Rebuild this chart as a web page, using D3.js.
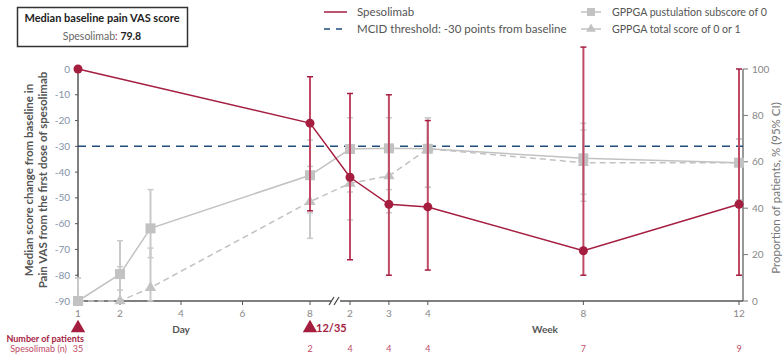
<!DOCTYPE html>
<html><head><meta charset="utf-8">
<script src="https://cdn.jsdelivr.net/npm/d3@7"></script>
<style>
body{margin:0;background:#fff;}
svg{display:block;font-family:Lato,"DejaVu Sans",sans-serif;}
</style></head>
<body><svg id="c" width="784" height="355"></svg>
<script>
// ---- data ----
const spesoUnits = ["day","day","week","week","week","week","week"];
const spesoTimes = [1,8,2,3,4,8,12];
const spesoMedian = [0,-21,-42,-52.5,-53.5,-70.5,-52.5];
const spesoLow  = [null,-55,-74,-80,-78,-80,-80];
const spesoHigh = [null,-3,-9.5,-10,-20,8.5,0];

const gppUnits = ["day","day","day","day","week","week","week","week","week"];
const gppTimes = [1,2,3,8,2,3,4,8,12];
const pustule     = [0,11.6,31.3,54.2,65.5,65.8,65.6,61.5,59.6];
const pustuleLow  = [0,4.7,18.7,38,47,48,49,43,43.5];
const pustuleHigh = [10,26,48,69.4,79,79,79,76.6,69.8];
const total     = [0,0,5.7,42.8,50.7,53.9,65.6,59.6,59.6];
const totalLow  = [0,0,0,27,35,38,49,46,43.5];
const totalHigh = [10,14.8,22.8,58,65,65,79,73.7,69.8];

const mcid = -30;
const leftTicks = [0,-10,-20,-30,-40,-50,-60,-70,-80,-90];
const rightTicks = [0,20,40,60,80,100];
const dayTicks = [1,2,4,6,8];
const weekTicks = [2,3,4,8,12];
const nUnits = ["day","day","week","week","week","week","week"];
const nTimes = [1,8,2,3,4,8,12];
const nPatients = ["35","2","4","4","4","7","9"];

// ---- styles ----
const RED="#a51d3f", RED_BAR="#c04a66", GREY="#c2c2c2", GREY_BAR="#c9c9c9", BLUE="#1f4e7a";

const svg = d3.select("#c");
const X0=78, X1=743, Y0=69, Y1=301;
const yL = d3.scaleLinear().domain([-90,0]).range([Y1,Y0]);
const yR = d3.scaleLinear().domain([0,100]).range([Y1,Y0]);
const xDay = d3.scaleLinear().domain(dayTicks).range([78,120,181,242.5,310]);
const xWeek = d3.scaleLinear().domain([2,12]).range([350,739]);
const xp = (u,t) => u==="day" ? xDay(t) : xWeek(t);

// ---- box ----
svg.append("rect").attr("x",17.5).attr("y",7.5).attr("width",170).attr("height",39)
  .attr("fill","#fff").attr("stroke","#333").attr("stroke-width",1.5);
svg.append("text").attr("x",102).attr("y",22).attr("text-anchor","middle")
  .attr("font-size",11).attr("font-weight","bold").attr("fill","#222").text("Median baseline pain VAS score");
const bt = svg.append("text").attr("x",102).attr("y",40).attr("text-anchor","middle").attr("font-size",10.5);
bt.append("tspan").attr("fill","#666").text("Spesolimab");
bt.append("tspan").attr("fill",RED).text(": ");
bt.append("tspan").attr("fill","#222").attr("font-weight","bold").text("79.8");

// ---- legend ----
const lg = svg.append("g").attr("font-size",11.5).attr("fill","#555");
lg.append("line").attr("x1",324).attr("x2",347).attr("y1",12).attr("y2",12).attr("stroke",RED).attr("stroke-width",1.5);
lg.append("text").attr("x",357).attr("y",16).attr("fill","#555").text("Spesolimab");
lg.append("line").attr("x1",324).attr("x2",347).attr("y1",29).attr("y2",29).attr("stroke",BLUE).attr("stroke-width",1.5).attr("stroke-dasharray","6,6");
lg.append("text").attr("x",357).attr("y",33).attr("fill","#555").text("MCID threshold: -30 points from baseline");
lg.append("line").attr("x1",581).attr("x2",601).attr("y1",12).attr("y2",12).attr("stroke",GREY).attr("stroke-width",1.5);
lg.append("rect").attr("x",587).attr("y",8).attr("width",8).attr("height",8).attr("fill",GREY);
lg.append("text").attr("x",612).attr("y",16).attr("font-size",10.6).attr("fill","#555").text("GPPGA pustulation subscore of 0");
lg.append("line").attr("x1",581).attr("x2",601).attr("y1",29).attr("y2",29).attr("stroke",GREY).attr("stroke-width",1.5);
lg.append("path").attr("d",d3.symbol(d3.symbolTriangle,40)()).attr("transform","translate(591,29)").attr("fill",GREY);
lg.append("text").attr("x",612).attr("y",33).attr("font-size",10.6).attr("fill","#555").text("GPPGA total score of 0 or 1");

// ---- axes ----
const ax = svg.append("g");
ax.append("line").attr("x1",X0).attr("x2",X0).attr("y1",Y0).attr("y2",Y1).attr("stroke","#555").attr("stroke-width",1.5);
leftTicks.forEach(v=>{
  ax.append("line").attr("x1",X0-3).attr("x2",X0).attr("y1",yL(v)).attr("y2",yL(v)).attr("stroke","#555");
  ax.append("text").attr("x",X0-8).attr("y",yL(v)+3.5).attr("text-anchor","end").attr("font-size",10).attr("fill","#8493aa").text(v);
});
ax.append("line").attr("x1",X1).attr("x2",X1).attr("y1",Y0).attr("y2",Y1).attr("stroke","#777").attr("stroke-width",1.5);
rightTicks.forEach(v=>{
  ax.append("line").attr("x1",X1).attr("x2",X1+5).attr("y1",yR(v)).attr("y2",yR(v)).attr("stroke","#777");
  ax.append("text").attr("x",X1+9).attr("y",yR(v)+3.5).attr("font-size",10).attr("fill","#888").text(v);
});
ax.append("line").attr("x1",X0).attr("x2",X1).attr("y1",Y1).attr("y2",Y1).attr("stroke","#555").attr("stroke-width",1.5);
const xt = dayTicks.map(t=>["day",t]).concat(weekTicks.map(t=>["week",t]));
xt.forEach(([u,t])=>{
  const x = xp(u,t);
  ax.append("line").attr("x1",x).attr("x2",x).attr("y1",Y1).attr("y2",Y1+4).attr("stroke","#555");
  ax.append("text").attr("x",x).attr("y",Y1+16).attr("text-anchor","middle").attr("font-size",10).attr("fill","#888").text(t);
});
ax.append("rect").attr("x",331).attr("y",Y1-3).attr("width",9).attr("height",6).attr("fill","#fff");
[329,334].forEach(a=>{
  ax.append("line").attr("x1",a).attr("x2",a+5).attr("y1",Y1+4).attr("y2",Y1-4).attr("stroke","#444").attr("stroke-width",1.2);
});
const lt = ax.append("text").attr("transform","translate(0,180) rotate(-90)").attr("text-anchor","middle")
  .attr("font-size",11.5).attr("font-weight","bold").attr("fill","#555");
lt.append("tspan").attr("x",0).attr("y",33).text("Median score change from baseline in");
lt.append("tspan").attr("x",0).attr("y",47).text("Pain VAS from the first dose of spesolimab");
ax.append("text").attr("transform","translate(780,188) rotate(-90)").attr("text-anchor","middle")
  .attr("font-size",11.5).attr("fill","#777").text("Proportion of patients, % (95% CI)");
ax.append("text").attr("x",181).attr("y",333).attr("text-anchor","middle").attr("font-size",10).attr("font-weight","bold").attr("fill","#555").text("Day");
ax.append("text").attr("x",545).attr("y",333).attr("text-anchor","middle").attr("font-size",10).attr("font-weight","bold").attr("fill","#555").text("Week");

// ---- MCID ----
svg.append("line").attr("x1",X0).attr("x2",X1).attr("y1",yL(mcid)).attr("y2",yL(mcid))
  .attr("stroke",BLUE).attr("stroke-width",1.5).attr("stroke-dasharray","8,6");

// ---- GPPGA series ----
const g = svg.append("g");
function errBars(units,times,lo,hi,ys,color,w){
  times.forEach((t,i)=>{
    if(lo[i]==null) return;
    const x=xp(units[i],t);
    g.append("line").attr("x1",x).attr("x2",x).attr("y1",ys(lo[i])).attr("y2",ys(hi[i])).attr("stroke",color).attr("stroke-width",w);
    [lo[i],hi[i]].forEach(v=>g.append("line").attr("x1",x-3).attr("x2",x+3).attr("y1",ys(v)).attr("y2",ys(v)).attr("stroke",color).attr("stroke-width",1.5));
  });
}
errBars(gppUnits,gppTimes,totalLow,totalHigh,yR,GREY_BAR,2);
errBars(gppUnits,gppTimes,pustuleLow,pustuleHigh,yR,GREY_BAR,2);
const idx = d3.range(gppTimes.length);
g.append("path").attr("d",d3.line().x(i=>xp(gppUnits[i],gppTimes[i])).y(i=>yR(total[i]))(idx))
  .attr("fill","none").attr("stroke",GREY).attr("stroke-width",1.5).attr("stroke-dasharray","6,4");
g.append("path").attr("d",d3.line().x(i=>xp(gppUnits[i],gppTimes[i])).y(i=>yR(pustule[i]))(idx))
  .attr("fill","none").attr("stroke",GREY).attr("stroke-width",1.5);
idx.forEach(i=>{
  g.append("path").attr("d",d3.symbol(d3.symbolTriangle,55)()).attr("transform",`translate(${xp(gppUnits[i],gppTimes[i])},${yR(total[i])})`).attr("fill",GREY);
  g.append("rect").attr("x",xp(gppUnits[i],gppTimes[i])-5).attr("y",yR(pustule[i])-5).attr("width",10).attr("height",10).attr("fill",GREY);
});

// ---- Spesolimab ----
const s = svg.append("g");
spesoTimes.forEach((t,i)=>{
  if(spesoLow[i]==null) return;
  const x=xp(spesoUnits[i],t);
  s.append("line").attr("x1",x).attr("x2",x).attr("y1",yL(spesoLow[i])).attr("y2",yL(spesoHigh[i])).attr("stroke",RED_BAR).attr("stroke-width",2);
  [spesoLow[i],spesoHigh[i]].forEach(v=>s.append("line").attr("x1",x-3).attr("x2",x+3).attr("y1",yL(v)).attr("y2",yL(v)).attr("stroke",RED).attr("stroke-width",1.5));
});
const sidx = d3.range(spesoTimes.length);
s.append("path").attr("d",d3.line().x(i=>xp(spesoUnits[i],spesoTimes[i])).y(i=>yL(spesoMedian[i]))(sidx))
  .attr("fill","none").attr("stroke",RED).attr("stroke-width",1.5);
sidx.forEach(i=>s.append("circle").attr("cx",xp(spesoUnits[i],spesoTimes[i])).attr("cy",yL(spesoMedian[i])).attr("r",4.5).attr("fill",RED));

// ---- bottom annotations ----
const b = svg.append("g");
[["day",1],["day",8]].forEach(([u,t])=>{
  b.append("path").attr("d",d3.symbol(d3.symbolTriangle,90)()).attr("transform",`translate(${xp(u,t)},${328})`).attr("fill",RED);
});
b.append("text").attr("x",316).attr("y",332).attr("font-size",11).attr("font-weight","bold").attr("fill",RED).text("12/35");
b.append("text").attr("x",84).attr("y",342).attr("text-anchor","end").attr("font-size",9).attr("font-weight","bold").attr("fill",RED).text("Number of patients");
b.append("text").attr("x",67).attr("y",352).attr("text-anchor","end").attr("font-size",9).attr("fill","#c04a66").text("Spesolimab (n)");
nTimes.forEach((t,i)=>{
  b.append("text").attr("x",xp(nUnits[i],t)).attr("y",352).attr("text-anchor","middle").attr("font-size",9).attr("fill","#c04a66").text(nPatients[i]);
});
</script></body></html>
